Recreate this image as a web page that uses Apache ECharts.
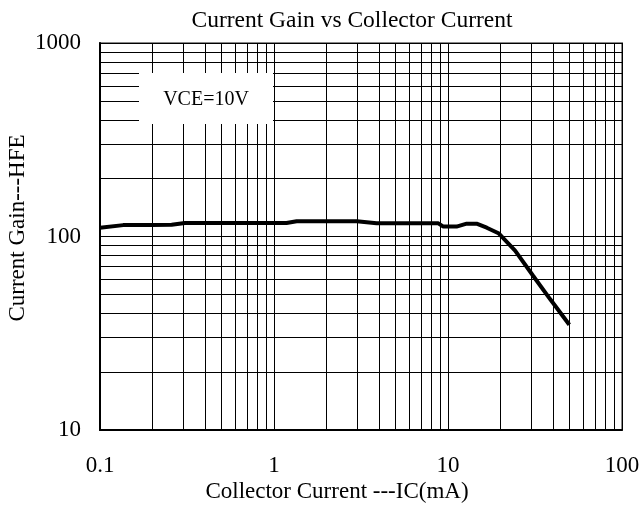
<!DOCTYPE html>
<html>
<head>
<meta charset="utf-8">
<script src="https://cdn.jsdelivr.net/npm/echarts@6/dist/echarts.min.js"></script>
<style>
html,body{margin:0;padding:0;background:#fff;}
#chart{width:639px;height:511px;}
</style>
</head>
<body>
<div id="chart"></div>
<script>
// Collector current (mA) and current gain (HFE)
const icValues  = [0.1, 0.136, 0.198, 0.258, 0.308, 1.18, 1.35, 2.99, 3.89, 8.8, 9.4, 11.2, 12.8, 14.6, 16.7, 19.5, 24.3, 30.9, 38.6, 49.8];
const hfeValues = [111, 114.5, 114.5, 115, 117.5, 117.5, 120, 120, 117, 117, 112.5, 112.5, 116.5, 116.5, 111, 104, 84.5, 62.5, 47.5, 35];

// Axis ticks and minor grid positions (log decades)
const xTicks = [0.1, 1, 10, 100];
const yTicks = [10, 100, 1000];
const xMinorGrid = [0.2,0.3,0.4,0.5,0.6,0.7,0.8,0.9, 2,3,4,5,6,7,8,9, 20,30,40,50,60,70,80,90];
const yMinorGrid = [20,30,40,50,60,70,80,90, 200,300,400,500,600,700,800,900];

const titleText = 'Current Gain vs Collector Current';
const xName = 'Collector Current ---IC(mA)';
const yName = 'Current Gain---HFE';
const noteText = 'VCE=10V';

const FONT = "'Liberation Serif', 'Times New Roman', serif";

const chart = echarts.init(document.getElementById('chart'), null, {renderer: 'canvas'});

const gridMarks = xMinorGrid.map(v => ({xAxis: v})).concat(yMinorGrid.map(v => ({yAxis: v})));

const option = {
  animation: false,
  backgroundColor: '#fff',
  textStyle: {fontFamily: FONT, color: '#000'},
  title: {
    text: titleText,
    left: 347,
    textAlign: 'center',
    top: 4,
    textStyle: {fontFamily: FONT, fontSize: 23.5, fontWeight: 'normal', color: '#000'}
  },
  grid: {
    left: 100, right: 17, top: 43, bottom: 81,
    containLabel: false,
    outerBoundsMode: 'none',
    show: true, borderColor: '#888', borderWidth: 2, backgroundColor: 'transparent'
  },
  xAxis: {
    type: 'log', logBase: 10, min: 0.1, max: 100,
    name: xName, nameLocation: 'middle', nameGap: 50,
    nameMoveOverlap: false,
    nameTextStyle: {fontFamily: FONT, fontSize: 23, color: '#000', padding: [0, 48, 0, 0]},
    axisLine: {show: true, lineStyle: {color: '#000', width: 2}},
    axisTick: {show: false},
    axisLabel: {
      fontFamily: FONT, fontSize: 23, color: '#000', margin: 24,
      formatter: v => {
        const t = xTicks.find(x => Math.abs(x - v) / x < 1e-6);
        return t === undefined ? '' : String(t);
      }
    },
    splitLine: {show: true, lineStyle: {color: '#000', width: 1}}
  },
  yAxis: {
    type: 'log', logBase: 10, min: 10, max: 1000,
    name: yName, nameLocation: 'middle', nameGap: 71, nameRotate: 90,
    nameMoveOverlap: false,
    nameTextStyle: {fontFamily: FONT, fontSize: 23, color: '#000', padding: [0, 0, 0, 17]},
    axisLine: {show: true, lineStyle: {color: '#000', width: 2}},
    axisTick: {show: false},
    axisLabel: {
      fontFamily: FONT, fontSize: 23, color: '#000', margin: 19,
      padding: [6, 0, 0, 0],
      formatter: v => {
        const t = yTicks.find(y => Math.abs(y - v) / y < 1e-6);
        return t === undefined ? '' : String(t);
      }
    },
    splitLine: {show: true, lineStyle: {color: '#000', width: 1}}
  },
  series: [
    {
      name: 'grid',
      type: 'line',
      data: [],
      z: 1,
      silent: true,
      markLine: {
        silent: true,
        symbol: ['none', 'none'],
        label: {show: false},
        emphasis: {disabled: true},
        lineStyle: {color: '#000', width: 1, type: 'solid'},
        data: gridMarks
      }
    },
    {
      name: 'HFE',
      type: 'line',
      z: 5,
      symbol: 'none',
      smooth: false,
      lineStyle: {color: '#000', width: 4},
      data: icValues.map((x, i) => [x, hfeValues[i]])
    }
  ],
  graphic: [
    {
      type: 'rect',
      z: 100,
      shape: {x: 139, y: 73, width: 134, height: 51},
      style: {fill: '#fff'}
    },
    {
      type: 'text',
      z: 101,
      x: 206, y: 100,
      style: {text: noteText, fontFamily: FONT, fontSize: 20, fill: '#000', textAlign: 'center', textVerticalAlign: 'middle'}
    }
  ]
};

chart.setOption(option);
</script>
</body>
</html>
